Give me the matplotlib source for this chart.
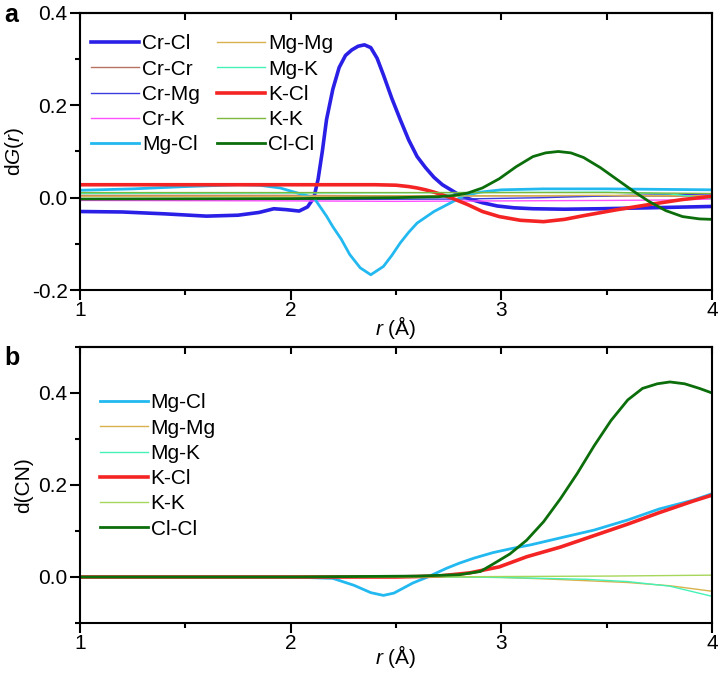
import numpy as np
import matplotlib
matplotlib.use("Agg")
import matplotlib.pyplot as plt
from matplotlib.ticker import MultipleLocator

plt.rcParams['font.family'] = ['Liberation Sans', 'DejaVu Sans']
plt.rcParams['mathtext.fontset'] = 'custom'
plt.rcParams['mathtext.rm'] = 'Liberation Sans'
plt.rcParams['mathtext.it'] = 'Liberation Sans:italic'

# ---- panel a : dG(r) ----
crcl_r = [1.0, 1.2, 1.4, 1.6, 1.75, 1.85, 1.92, 1.98, 2.04, 2.08, 2.11, 2.13, 2.15, 2.17,
          2.20, 2.23, 2.26, 2.29, 2.32, 2.35, 2.38, 2.41, 2.44, 2.48, 2.52, 2.56, 2.60,
          2.64, 2.68, 2.72, 2.76, 2.80, 2.85, 2.91, 2.98, 3.06, 3.15, 3.30, 3.47, 3.70, 4.0]
crcl_g = [-0.030, -0.031, -0.035, -0.040, -0.038, -0.032, -0.024, -0.026, -0.029, -0.020,
          0.0, 0.04, 0.10, 0.169, 0.235, 0.282, 0.308, 0.320, 0.328, 0.331, 0.325, 0.302,
          0.266, 0.215, 0.169, 0.125, 0.089, 0.065, 0.044, 0.028, 0.017, 0.006, -0.003,
          -0.011, -0.018, -0.022, -0.024, -0.025, -0.024, -0.022, -0.019]

crcr_r = [1.0, 2.0, 2.5, 3.0, 4.0]
crcr_g = [0.005, 0.005, 0.004, 0.004, 0.003]

crmg_r = [1.0, 2.0, 2.8, 3.2, 3.6, 4.0]
crmg_g = [-0.004, -0.004, -0.003, 0.0, 0.005, 0.008]

crk_r = [1.0, 2.0, 2.5, 3.0, 3.5, 3.8, 4.0]
crk_g = [-0.006, -0.007, -0.008, -0.007, -0.006, -0.005, -0.003]

mgcl_r = [1.0, 1.25, 1.5, 1.75, 1.85, 1.95, 2.04, 2.11, 2.17, 2.20, 2.24, 2.28, 2.33, 2.38,
          2.44, 2.48, 2.52, 2.56, 2.60, 2.68, 2.76, 2.82, 2.90, 3.0, 3.2, 3.5, 4.0]
mgcl_g = [0.016, 0.019, 0.024, 0.028, 0.027, 0.021, 0.009, 0.0, -0.04, -0.063, -0.09,
          -0.123, -0.152, -0.167, -0.149, -0.125, -0.098, -0.075, -0.055, -0.030, -0.011,
          0.004, 0.012, 0.017, 0.019, 0.019, 0.017]

mgmg_r = [1.0, 2.0, 3.0, 3.5, 4.0]
mgmg_g = [0.003, 0.003, 0.004, 0.005, 0.004]

mgk_r = [1.0, 2.0, 2.8, 3.5, 3.8, 4.0]
mgk_g = [0.009, 0.010, 0.011, 0.012, 0.008, -0.002]

kcl_r = [1.0, 1.5, 2.0, 2.4, 2.5, 2.56, 2.60, 2.64, 2.68, 2.72, 2.76, 2.84, 2.91, 2.99,
         3.09, 3.20, 3.30, 3.39, 3.55, 3.70, 3.86, 4.0]
kcl_g = [0.028, 0.028, 0.028, 0.028, 0.027, 0.024, 0.021, 0.017, 0.012, 0.006, 0.0,
         -0.015, -0.030, -0.041, -0.049, -0.052, -0.047, -0.039, -0.026, -0.015, -0.004, 0.003]

kk_r = [1.0, 2.0, 3.0, 3.5, 4.0]
kk_g = [0.011, 0.011, 0.011, 0.011, 0.009]

clcl_r = [1.0, 2.0, 2.5, 2.7, 2.78, 2.84, 2.91, 2.99, 3.07, 3.15, 3.21, 3.27, 3.33, 3.39,
          3.47, 3.55, 3.63, 3.70, 3.78, 3.86, 3.94, 4.0]
clcl_g = [-0.003, -0.002, 0.0, 0.002, 0.005, 0.010, 0.021, 0.041, 0.067, 0.089, 0.097,
          0.100, 0.097, 0.087, 0.065, 0.039, 0.013, -0.008, -0.028, -0.041, -0.046, -0.047]

# ---- panel b : d(CN) ----
b_mgcl_r = [1.0, 2.0, 2.2, 2.3, 2.38, 2.44, 2.49, 2.58, 2.65, 2.74, 2.80, 2.87, 2.96,
            3.05, 3.14, 3.28, 3.44, 3.60, 3.75, 3.91, 4.0]
b_mgcl_cn = [0.0, 0.0, -0.003, -0.018, -0.034, -0.040, -0.035, -0.013, 0.0, 0.019, 0.030,
             0.041, 0.053, 0.062, 0.070, 0.085, 0.102, 0.124, 0.148, 0.167, 0.181]

b_mgmg_r = [1.0, 2.8, 3.0, 3.2, 3.4, 3.6, 3.8, 4.0]
b_mgmg_cn = [0.0, 0.0, -0.001, -0.004, -0.008, -0.012, -0.019, -0.031]

b_mgk_r = [1.0, 2.8, 3.0, 3.2, 3.4, 3.6, 3.8, 4.0]
b_mgk_cn = [0.0, 0.0, -0.001, -0.003, -0.005, -0.010, -0.020, -0.042]

b_kcl_r = [1.0, 2.0, 2.5, 2.7, 2.85, 2.99, 3.12, 3.28, 3.44, 3.60, 3.75, 3.91, 4.0]
b_kcl_cn = [0.0, 0.0, 0.0, 0.002, 0.009, 0.022, 0.044, 0.065, 0.090, 0.115, 0.140, 0.165, 0.178]

b_kk_r = [1.0, 2.6, 3.0, 3.5, 4.0]
b_kk_cn = [0.0, 0.0, 0.001, 0.002, 0.004]

b_clcl_r = [1.0, 2.0, 2.6, 2.8, 2.9, 2.96, 3.04, 3.12, 3.20, 3.28, 3.36, 3.44, 3.52, 3.60,
            3.67, 3.74, 3.80, 3.87, 3.94, 4.0]
b_clcl_cn = [0.0, 0.0, 0.002, 0.005, 0.012, 0.028, 0.050, 0.080, 0.120, 0.170, 0.225, 0.285,
             0.340, 0.385, 0.410, 0.420, 0.424, 0.420, 0.410, 0.400]

fig = plt.figure(figsize=(7.21, 6.76), dpi=100)
ax1 = fig.add_axes([0.111, 0.571, 0.8766, 0.4098])
ax2 = fig.add_axes([0.111, 0.0784, 0.8766, 0.4083])

# colour, linewidth
sty = {
    'Cr-Cl': ('#2a1fe6', 2.6),
    'Cr-Cr': ('#b87262', 1.0),
    'Cr-Mg': ('#3c3ce0', 1.0),
    'Cr-K': ('#ff50ff', 1.0),
    'Mg-Cl': ('#22b8f0', 2.0),
    'Mg-Mg': ('#d8b24c', 1.0),
    'Mg-K': ('#44f2b8', 1.0),
    'K-Cl': ('#f52424', 2.6),
    'K-K': ('#7cb83c', 1.0),
    'Cl-Cl': ('#0b6e0b', 2.0),
}

top = [('Cr-Cl', crcl_r, crcl_g), ('Cr-Cr', crcr_r, crcr_g), ('Cr-Mg', crmg_r, crmg_g),
       ('Cr-K', crk_r, crk_g), ('Mg-Cl', mgcl_r, mgcl_g), ('Mg-Mg', mgmg_r, mgmg_g),
       ('Mg-K', mgk_r, mgk_g), ('K-Cl', kcl_r, kcl_g), ('K-K', kk_r, kk_g),
       ('Cl-Cl', clcl_r, clcl_g)]
for name, r, y in top:
    c, lw = sty[name]
    ax1.plot(r, y, color=c, lw=lw, label=name, solid_joinstyle='round')

bot = [('Mg-Cl', b_mgcl_r, b_mgcl_cn), ('Mg-Mg', b_mgmg_r, b_mgmg_cn),
       ('Mg-K', b_mgk_r, b_mgk_cn), ('K-Cl', b_kcl_r, b_kcl_cn),
       ('K-K', b_kk_r, b_kk_cn), ('Cl-Cl', b_clcl_r, b_clcl_cn)]
for name, r, y in bot:
    c, lw = sty[name]
    if name == 'K-K':
        c = '#a6d65a'
    ax2.plot(r, y, color=c, lw=lw, label=name, solid_joinstyle='round')

for ax in (ax1, ax2):
    ax.set_xlim(1, 4)
    ax.xaxis.set_major_locator(MultipleLocator(1))
    ax.xaxis.set_minor_locator(MultipleLocator(0.5))
    ax.yaxis.set_major_locator(MultipleLocator(0.2))
    ax.yaxis.set_minor_locator(MultipleLocator(0.1))
    ax.tick_params(axis='both', which='major', direction='out', length=7, width=1.5,
                   labelsize=15, top=False, right=False)
    ax.tick_params(axis='x', which='major', pad=1)
    ax.tick_params(axis='y', which='major', pad=2)
    ax.tick_params(axis='both', which='minor', direction='out', length=3.5, width=1.5,
                   top=False, right=False)
    for s in ax.spines.values():
        s.set_linewidth(1.5)
    # inward ticks mirrored on the top edge
    sec = ax.secondary_xaxis('top')
    sec.xaxis.set_major_locator(MultipleLocator(1))
    sec.xaxis.set_minor_locator(MultipleLocator(0.5))
    sec.tick_params(which='both', direction='in', length=5, width=1.5, labeltop=False)
    sec.spines['top'].set_linewidth(1.5)
    ax.set_xlabel('$r$ (Å)', fontsize=15)
    ax.xaxis.label.set_va('center')

ax1.xaxis.set_label_coords(0.5, -0.134)
ax2.xaxis.set_label_coords(0.5, -0.12)

ax1.set_ylim(-0.2, 0.4)
ax2.set_ylim(-0.1, 0.5)
ax1.set_ylabel('d$G$($r$)', fontsize=15, labelpad=4)
ax2.set_ylabel('d(CN)', fontsize=15, labelpad=4)
ax1.set_yticks([-0.2, 0.0, 0.2, 0.4])
ax1.set_yticklabels(['-0.2', '0.0', '0.2', '0.4'])
ax2.set_yticks([0.0, 0.2, 0.4])
ax2.set_yticklabels(['0.0', '0.2', '0.4'])

ax1.legend(ncol=2, loc='upper left', bbox_to_anchor=(-0.005, 0.975), frameon=False,
           fontsize=15, handlelength=2.3, handletextpad=0.15, columnspacing=0.8,
           labelspacing=0.3, borderaxespad=0.3)
ax2.legend(ncol=1, loc='upper left', bbox_to_anchor=(0.008, 0.885), frameon=False,
           fontsize=15, handlelength=2.3, handletextpad=0.15, labelspacing=0.3,
           borderaxespad=0.3)

fig.text(0.006, 0.995, 'a', fontsize=18, fontweight='bold', va='top')
fig.text(0.006, 0.488, 'b', fontsize=18, fontweight='bold', va='top')

fig.savefig('out.png', dpi=100)
